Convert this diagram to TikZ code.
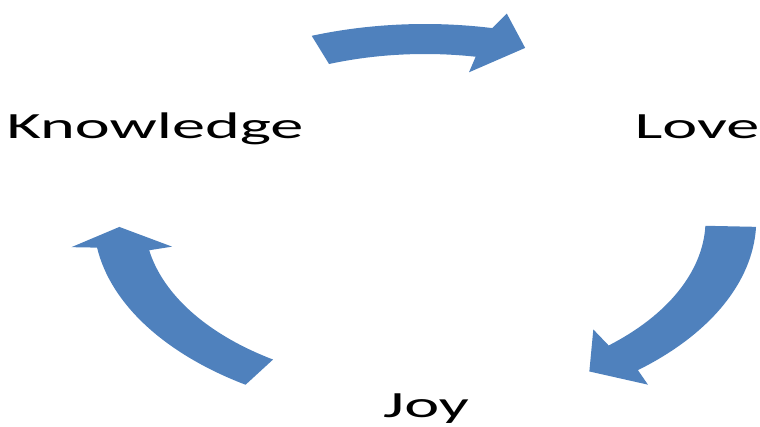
\documentclass[tikz,border=0pt]{standalone}
\usepackage{fontspec}
\setmainfont{Carlito}
\usepackage{tikz}
\usetikzlibrary{positioning}
\definecolor{CycleBlue}{RGB}{79,129,189}

\begin{document}
\begin{tikzpicture}[x=1pt,y=1pt,word/.style={anchor=base,inner sep=0pt,xscale=1.79,font=\fontsize{37}{40}\selectfont}]
\useasboundingbox (0,0) rectangle (760,426);
\node[word] (know) at (155,287) {Knowledge};\node[word] (love) at (697,287) {Love};\node[word] (joy) at (426,9) {Joy};
% arrows of the cycle
\begin{scope}[shift={(425,206)},xscale=1.69]
\fill[CycleBlue] (110:196) arc[start angle=110,end angle=78.3,radius=196] -- (76.8:212) -- (71:182) -- (80:150) -- (79.6:166) arc[start angle=79.6,end angle=110,radius=166] -- cycle;
\fill[CycleBlue] (-2:196) arc[start angle=-2,end angle=-50,radius=196] -- (-51.3:211) -- (-57.3:180) -- (-47.7:148) -- (-49.1:166) arc[start angle=-49.1,end angle=-2,radius=166] -- cycle;
\fill[CycleBlue] (237.2:196) arc[start angle=237.2,end angle=188.1,radius=196] -- (187.4:211) -- (182.2:181) -- (190.1:152) -- (190.5:166) arc[start angle=190.5,end angle=237.2,radius=166] -- cycle;
\end{scope}
\end{tikzpicture}
\end{document}
